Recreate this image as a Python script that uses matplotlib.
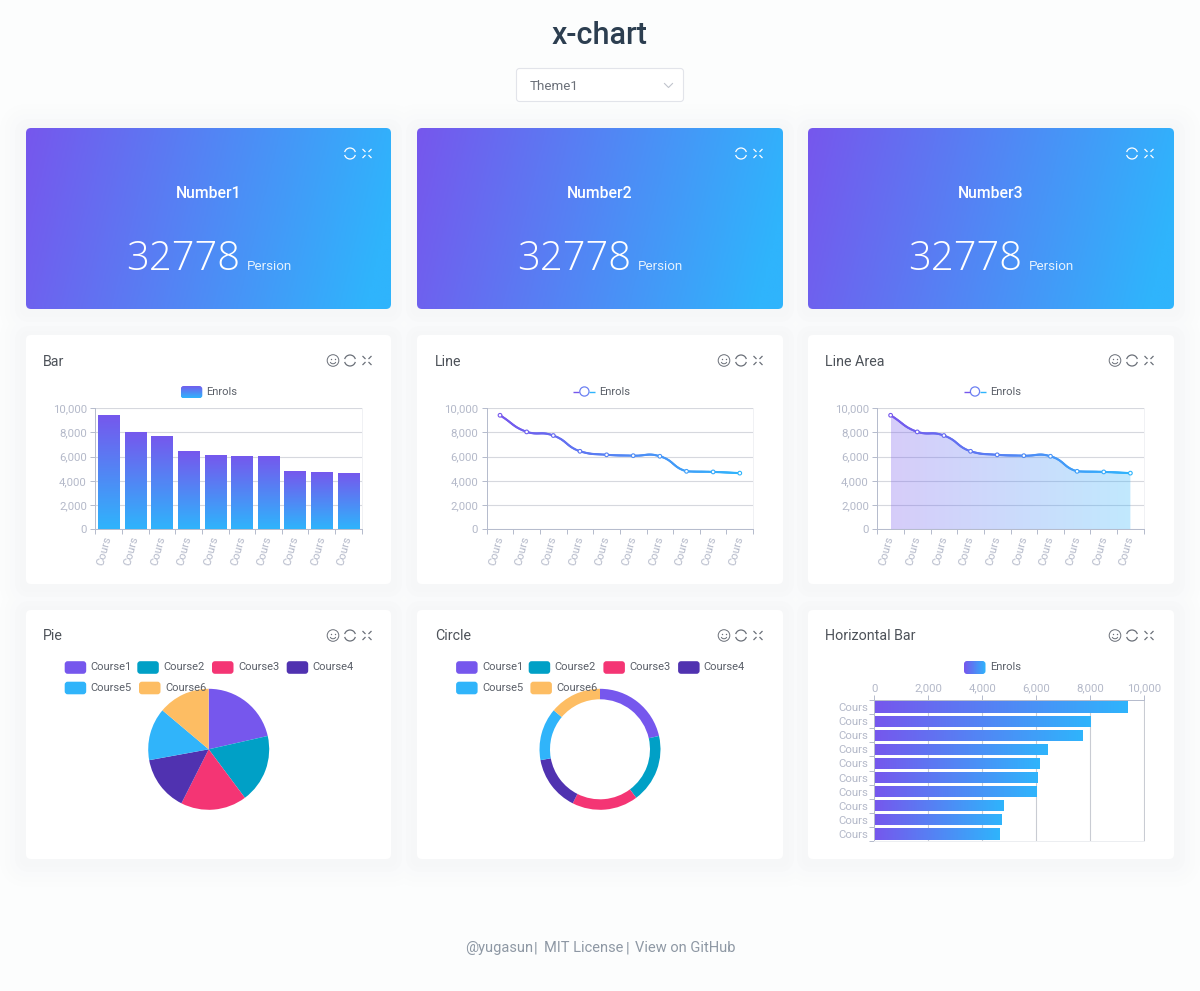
#!/usr/bin/env python3

import numpy as np
import matplotlib
matplotlib.use('Agg')
import matplotlib.pyplot as plt
from matplotlib.collections import LineCollection
from matplotlib.colors import LinearSegmentedColormap
from matplotlib.patches import Arc, Circle, FancyBboxPatch

# Data
courses = ['Cours'] * 10
enrols = [9400, 8030, 7730, 6430, 6140, 6070, 6020, 4780, 4730, 4630]
pie_labels = ['Course1', 'Course2', 'Course3', 'Course4', 'Course5', 'Course6']
pie_values = [9400, 8030, 7730, 6430, 6140, 6070]
pie_colors = ['#7657ed', '#00a0c6', '#f43574', '#5032b0', '#30b4fa', '#fdbd63']
value_ticks = [0, 2000, 4000, 6000, 8000, 10000]
number_titles = ['Number1', 'Number2', 'Number3']
number_value = '32778'
number_unit = 'Persion'

W, H = 1200, 991
PURPLE, BLUE = '#7657ed', '#2fb4fc'
grad = LinearSegmentedColormap.from_list('grad', [PURPLE, BLUE])
AXIS, GRID, TICK = '#b6bccd', '#d6d8de', '#b4b9c9'
TITLE, LEGEND = '#4d5259', '#5a5f68'
card_xs = [(26, 391), (417, 783), (808, 1174)]
card_ys = [(128, 309), (335, 584), (610, 859)]

plt.rcParams['font.family'] = ['Roboto', 'DejaVu Sans']

fig = plt.figure(figsize=(W / 100, H / 100), dpi=100, facecolor='#fcfdfd')


def px_axes(x0, y0, x1, y1, zorder=1):
    ax = fig.add_axes([x0 / W, 1 - y1 / H, (x1 - x0) / W, (y1 - y0) / H], zorder=zorder)
    ax.patch.set_alpha(0)
    return ax


back = px_axes(0, 0, W, H, 0)
front = px_axes(0, 0, W, H, 5)
for a in (back, front):
    a.set_xlim(0, W)
    a.set_ylim(H, 0)
    a.axis('off')


def round_box(ax, x0, y0, x1, y1, r=5, **kw):
    box = FancyBboxPatch((x0 + r, y0 + r), x1 - x0 - 2 * r, y1 - y0 - 2 * r,
                         boxstyle='round,pad=%g,rounding_size=%g' % (r, r), **kw)
    ax.add_patch(box)
    return box


def icons(x_off, y, color, smile=True):
    lw = 0.7
    if smile:
        cx = x_off + 333
        front.add_patch(Circle((cx, y), 5.8, fill=False, edgecolor=color, lw=lw))
        front.add_patch(Arc((cx, y + 0.5), 6, 5.5, theta1=20, theta2=160, edgecolor=color, lw=lw))
        front.plot([cx - 2.1, cx + 2.1], [y - 1.5, y - 1.5], ls='none', marker='o', ms=1.0, mew=0, color=color)
    cx = x_off + 350
    front.add_patch(Arc((cx, y), 11, 11, theta1=15, theta2=165, edgecolor=color, lw=0.9))
    front.add_patch(Arc((cx, y), 11, 11, theta1=195, theta2=345, edgecolor=color, lw=0.9))
    cx = x_off + 367
    for sx in (-1, 1):
        for sy in (-1, 1):
            front.plot([cx + sx * 1.5, cx + sx * 4.5], [y + sy * 1.5, y + sy * 4.5], color=color, lw=0.9,
                       solid_capstyle='butt')


def style_cartesian(ax):
    for side in ('top', 'left', 'right', 'bottom'):
        ax.spines[side].set_linewidth(0.72)
    ax.set_axisbelow(True)
    ax.tick_params(which='both', colors=AXIS, width=0.72, length=3.6, labelsize=8.2, labelcolor=TICK)


def value_category_axes(x_off):
    ax = px_axes(x_off + 69.3, 408, x_off + 335.7, 529.3)
    style_cartesian(ax)
    ax.spines['top'].set_visible(False)
    ax.spines['right'].set_color('#f0f1f4')
    ax.spines['left'].set_color(AXIS)
    ax.spines['bottom'].set_color(AXIS)
    ax.set_yticks(value_ticks)
    ax.set_yticklabels(['{:,}'.format(v) for v in value_ticks])
    ax.grid(axis='y', color=GRID, lw=0.8)
    ax.tick_params(axis='y', pad=2.5)
    ax.set_xticks(np.arange(len(courses) + 1) - 0.5)
    ax.set_xticklabels([])
    ax.set_xticks(np.arange(len(courses)), minor=True)
    ax.set_xticklabels(courses, minor=True, rotation=75, ha='right', va='center', rotation_mode='anchor')
    ax.tick_params(axis='x', which='minor', length=0, pad=5)
    ax.set_xlim(-0.5, len(courses) - 0.5)
    ax.set_ylim(0, 10000)
    return ax


def smooth_curve(ys, ax_w=266.4, ax_h=121.3, smooth=0.5, per_seg=24):
    # Bezier in the way the original library smooths a line, worked out in pixels
    n = len(ys)
    pts = np.column_stack([np.arange(n) * ax_w / n, np.array(ys) * ax_h / 10000])
    out = [pts[:1]]
    t = np.linspace(0, 1, per_seg)[1:, None]
    for i in range(n - 1):
        p0, p1 = pts[i], pts[i + 1]
        prev_p = pts[i - 1] if i > 0 else p0
        next_p = pts[i + 2] if i + 2 < n else p1
        d0 = np.linalg.norm(p0 - prev_p)
        d1 = np.linalg.norm(p1 - p0)
        d2 = np.linalg.norm(next_p - p1)
        c1 = p0 + (p1 - prev_p) * smooth * (d1 / (d0 + d1))
        c2 = p1 - (next_p - p0) * smooth * (d1 / (d1 + d2))
        # the outgoing handle stays within the segment, which keeps the shelves flat
        c1[1] = np.clip(c1[1], min(p0[1], p1[1]), max(p0[1], p1[1]))
        out.append((1 - t) ** 3 * p0 + 3 * (1 - t) ** 2 * t * c1 + 3 * (1 - t) * t ** 2 * c2 + t ** 3 * p1)
    xy = np.vstack(out)
    return xy[:, 0] * n / ax_w, xy[:, 1] * 10000 / ax_h


def gradient_line(ax, with_area=False):
    xs, ys = smooth_curve(enrols)
    if with_area:
        poly = ax.fill_between(xs, ys, 0, color='none', lw=0)
        im = ax.imshow(np.linspace(0, 1, 256).reshape(1, -1), cmap=grad, aspect='auto', alpha=0.3,
                       extent=(0, len(enrols) - 1, 0, 10000), zorder=1.5)
        im.set_clip_path(poly.get_paths()[0], transform=ax.transData)
    seg = np.stack([np.column_stack([xs[:-1], ys[:-1]]), np.column_stack([xs[1:], ys[1:]])], axis=1)
    lc = LineCollection(seg, cmap=grad, lw=1.5, zorder=3, capstyle='round')
    lc.set_array((xs[:-1] + xs[1:]) / 2)
    lc.set_clim(0, len(enrols) - 1)
    ax.add_collection(lc)
    idx = np.arange(len(enrols))
    ax.scatter(idx, enrols, s=7, facecolor='white', edgecolor=grad(idx / (len(enrols) - 1)),
               linewidth=0.8, zorder=4, clip_on=False)
    ax.set_xlim(-0.5, len(enrols) - 0.5)
    ax.set_ylim(0, 10000)


def legend_text(x, y, s):
    front.text(x, y, s, fontsize=8.0, color=LEGEND, va='center', ha='left')


def gradient_box(ax, x0, y0, x1, y1, data, r=3):
    box = round_box(ax, x0, y0, x1, y1, r=r, facecolor='none', edgecolor='none')
    im = ax.imshow(data, cmap=grad, aspect='auto', extent=(x0, x1, y1, y0), vmin=0, vmax=1, zorder=3)
    im.set_clip_path(box)
    ax.set_xlim(0, W)
    ax.set_ylim(H, 0)


def line_legend(x_off):
    cx = x_off + 167
    segs = [[(cx - 11, 391.5), (cx - 5, 391.5)], [(cx + 5, 391.5), (cx + 11, 391.5)]]
    front.add_collection(LineCollection(segs, colors=[PURPLE, BLUE], lw=1))
    front.add_patch(Circle((cx, 391.5), 4.6, facecolor='white', edgecolor='#6c80f2', lw=0.9))
    legend_text(x_off + 181.7, 392, 'Enrols')


def pie_legend(x_off):
    xs = [38.7, 111.3, 186, 260.7, 38.7, 113]
    text_xs = [64.5, 137, 212, 286, 64.5, 139]
    rows = [667.5, 667.5, 667.5, 667.5, 688, 688]
    for x, tx, y, col, lab in zip(xs, text_xs, rows, pie_colors, pie_labels):
        round_box(back, x_off + x, y - 6.3, x_off + x + 21.5, y + 6.3, r=3, facecolor=col, edgecolor='none')
        legend_text(x_off + tx, y, lab)


def card_title(x_off, y, s):
    front.text(x_off + 17.3, y, s, fontsize=10.3, color=TITLE, va='center', ha='left')


# Soft page shadow behind the cards, outer rings first so neighbours merge
shadow_steps = [(26, '#fbfcfc'), (21, '#fafbfb'), (16, '#f9fafb'), (11, '#f7f8f9'), (6, '#f6f7f8')]
for grow, col in shadow_steps:
    for x0, x1 in card_xs:
        for y0, y1 in card_ys:
            round_box(back, x0 - grow, y0 - grow + 2, x1 + grow, y1 + grow + 2, r=5 + grow,
                      facecolor=col, edgecolor='none')
for x0, x1 in card_xs:
    for y0, y1 in card_ys:
        round_box(back, x0, y0, x1, y1, facecolor='white', edgecolor='none')

# Header
front.text(600, 35, 'x-chart', fontsize=22, fontweight='medium', color='#2c3e50', ha='center', va='center')
round_box(back, 516.5, 68.5, 683.5, 101.5, r=3, facecolor='white', edgecolor='#e2e4ea', lw=0.8)
front.text(530, 86, 'Theme1', fontsize=9.6, color='#6b7079', va='center', ha='left')
front.plot([664.5, 668.5, 672.5], [83.5, 87.5, 83.5], color='#c0c4cc', lw=0.8)

# Number cards
for (x0, x1), label in zip(card_xs, number_titles):
    u = np.linspace(0, 1, 160)
    v = np.linspace(0, 1, 80)
    uu, vv = np.meshgrid(u, v)
    gradient_box(back, x0, 128, x1, 309, np.clip((uu + vv * 0.12) * 0.95, 0, 1), r=5)
    off = x0 - 26
    icons(off, 153.5, 'white', smile=False)
    mid = (x0 + x1) / 2
    front.text(mid, 193, label, fontsize=11.3, fontweight='medium', color='white', ha='center', va='center')
    front.text(off + 126.5, 270, number_value, fontsize=28.7, color='white', ha='left', va='baseline',
               family=['Open Sans', 'DejaVu Sans'], fontweight='light')
    front.text(off + 246.5, 270, number_unit, fontsize=9.6, color='#e4f1fd', ha='left', va='baseline')

# Icons of the chart cards
for x0, x1 in card_xs:
    icons(x0 - 26, 360.5, '#6a6f78')
    icons(x0 - 26, 635.5, '#6a6f78')

# Bar
ax = value_category_axes(26)
bars = ax.bar(np.arange(len(enrols)), enrols, width=0.8, color='none', zorder=2)
for b in bars:
    im = ax.imshow(np.linspace(0, 1, 256).reshape(-1, 1), cmap=grad, aspect='auto', zorder=2,
                   extent=(b.get_x(), b.get_x() + b.get_width(), 0, b.get_height()))
    im.set_clip_path(b)
ax.set_xlim(-0.5, 9.5)
ax.set_ylim(0, 10000)
card_title(26, 361.5, 'Bar')
gradient_box(back, 180.7, 386, 202.3, 398.3, np.linspace(0, 1, 64).reshape(-1, 1))
legend_text(206.5, 392, 'Enrols')

# Line
ax = value_category_axes(417.4)
gradient_line(ax)
card_title(417.4, 361.5, 'Line')
line_legend(417.4)

# Line Area
ax = value_category_axes(808)
gradient_line(ax, with_area=True)
card_title(808, 361.5, 'Line Area')
line_legend(808)

# Pie
R = 60.5
for cx, width, name, x_off in [(208.7, None, 'Pie', 26), (600, 10.5 / R, 'Circle', 417.4)]:
    ax = px_axes(cx - R * 1.02, 749.3 - R * 1.02, cx + R * 1.02, 749.3 + R * 1.02, 2)
    props = {'edgecolor': 'none'}
    if width is not None:
        props['width'] = width
    ax.pie(pie_values, colors=pie_colors, startangle=90, counterclock=False, wedgeprops=props, radius=1)
    ax.set_xlim(-1.02, 1.02)
    ax.set_ylim(-1.02, 1.02)
    card_title(x_off, 636.5, name)
    pie_legend(x_off)

# Horizontal Bar
ax = px_axes(874.3, 700, 1144.3, 841)
style_cartesian(ax)
ax.spines['right'].set_color('#c9ccd3')
ax.spines['bottom'].set_color('#eceef1')
ax.spines['left'].set_color(AXIS)
ax.spines['top'].set_color(AXIS)
ax.xaxis.tick_top()
ax.set_xticks(value_ticks)
ax.set_xticklabels(['{:,}'.format(v) for v in value_ticks])
ax.tick_params(axis='x', pad=1)
ax.grid(axis='x', color='#c9ccd3', lw=0.8)
ax.set_yticks(np.arange(len(courses) + 1) - 0.5)
ax.set_yticklabels([])
ax.set_yticks(np.arange(len(courses)), minor=True)
ax.set_yticklabels(courses, minor=True)
ax.tick_params(axis='y', which='minor', length=0, pad=4.5)
hbars = ax.barh(np.arange(len(enrols)), enrols, height=0.8, color='none', zorder=2)
for b in hbars:
    im = ax.imshow(np.linspace(0, 1, 256).reshape(1, -1), cmap=grad, aspect='auto', zorder=2,
                   extent=(0, b.get_width(), b.get_y() + b.get_height(), b.get_y()))
    im.set_clip_path(b)
ax.set_xlim(0, 10000)
ax.set_ylim(len(enrols) - 0.5, -0.5)
card_title(808, 636.5, 'Horizontal Bar')
gradient_box(back, 964, 661, 985.5, 674, np.linspace(0, 1, 64).reshape(1, -1))
legend_text(989.7, 667.5, 'Enrols')

# Footer
foot = '#8e98a4'
for x, s in [(465, '@yugasun'), (533.5, '|'), (544, 'MIT License'), (626, '|'), (635, 'View on GitHub')]:
    front.text(x, 948, s, fontsize=10.5, color=foot, ha='left', va='center')

fig.savefig('out.png', dpi=100, facecolor=fig.get_facecolor())
